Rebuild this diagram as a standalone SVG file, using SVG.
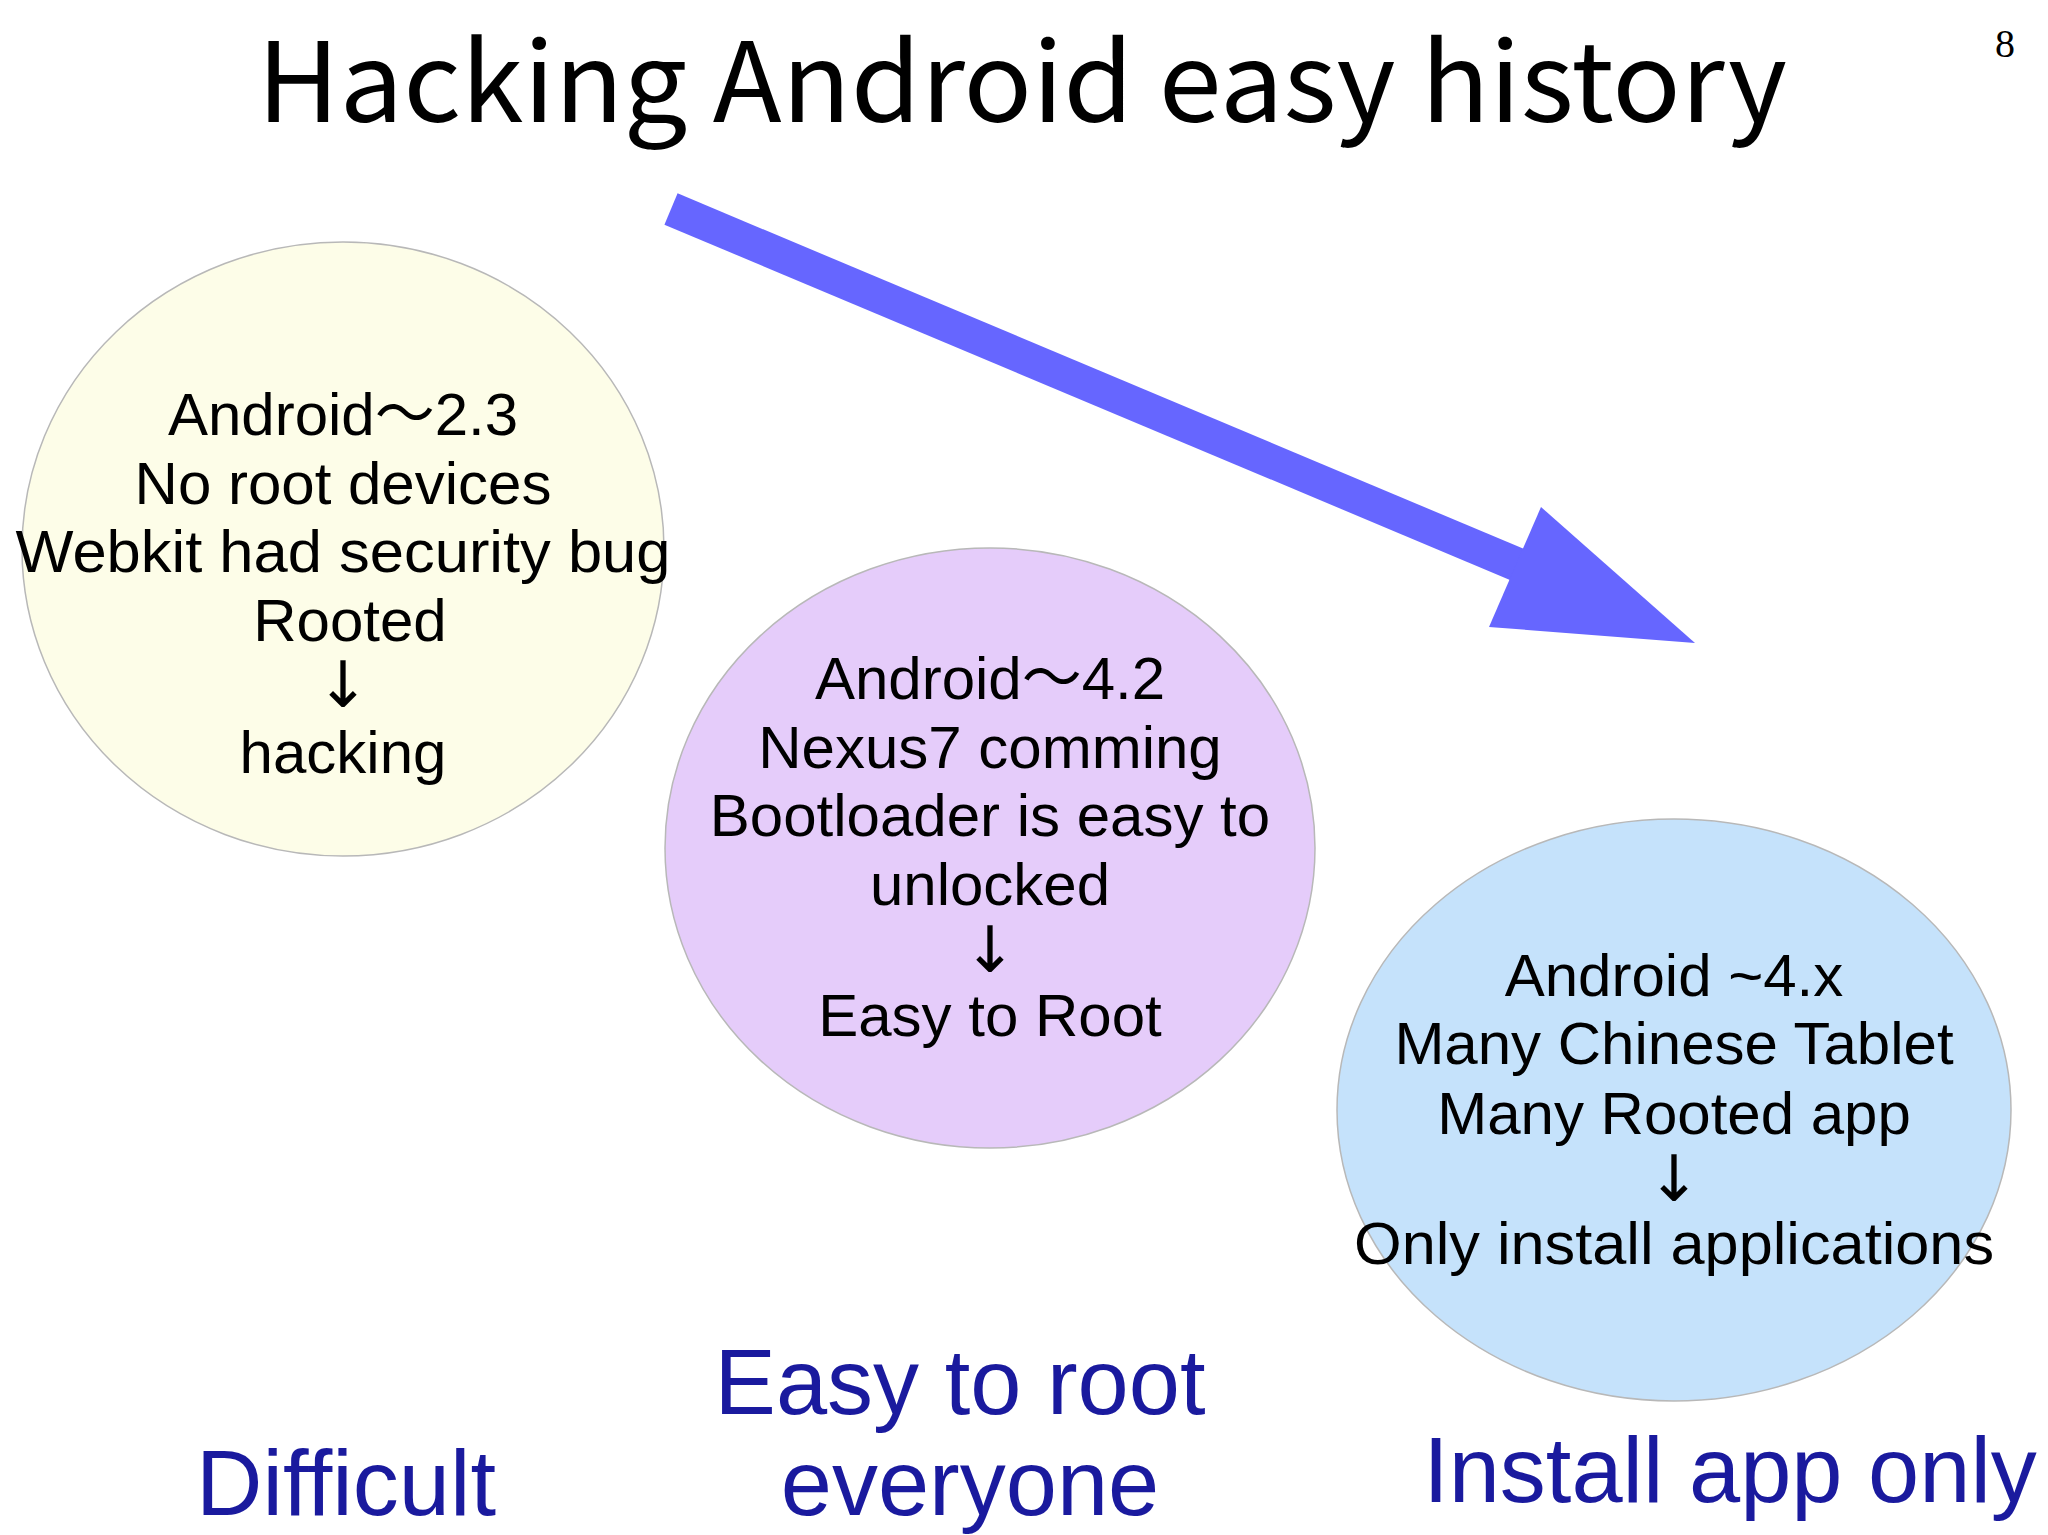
<svg xmlns="http://www.w3.org/2000/svg" width="2048" height="1535" viewBox="0 0 2048 1535">
<style>
.t{font-family:"Liberation Sans","Noto Sans CJK JP",sans-serif;font-size:60px;fill:#000;text-anchor:middle}
.a{font-family:"DejaVu Sans",sans-serif;font-size:64px;fill:#000;text-anchor:middle}
.b{font-family:"Liberation Sans",sans-serif;font-size:92px;fill:#1a1a9e;text-anchor:middle}
.e{stroke:#b8b8b8;stroke-width:1.5}
</style>
<rect width="2048" height="1535" fill="#fff"/>
<text x="1022" y="122" font-family="Noto Sans CJK JP, sans-serif" font-size="110" text-anchor="middle" textLength="1530" lengthAdjust="spacingAndGlyphs">Hacking Android easy history</text>
<text x="2005" y="57" font-family="Liberation Serif, serif" font-size="40" text-anchor="middle">8</text>
<g id="connectors">
<line x1="671" y1="209" x2="1535" y2="572" stroke="#6666ff" stroke-width="34"/>
<polygon points="1541,507 1695,643 1489,627" fill="#6666ff"/>
</g>
<g id="node1">
<ellipse class="e" cx="343" cy="549" rx="321" ry="307" fill="#fdfde8"/>
<text class="t" x="343" y="435">Android〜2.3</text>
<text class="t" x="343" y="504">No root devices</text>
<text class="t" x="343" y="572" textLength="655" lengthAdjust="spacingAndGlyphs">Webkit had security bug</text>
<text class="t" x="350" y="641">Rooted</text>
<text class="a" x="343" y="707">↓</text>
<text class="t" x="343" y="773">hacking</text>
</g>
<g id="node2">
<ellipse class="e" cx="990" cy="848" rx="325" ry="300" fill="#e5ccfa"/>
<text class="t" x="990" y="699">Android〜4.2</text>
<text class="t" x="990" y="768">Nexus7 comming</text>
<text class="t" x="990" y="836">Bootloader is easy to</text>
<text class="t" x="990" y="905">unlocked</text>
<text class="a" x="990" y="972">↓</text>
<text class="t" x="990" y="1036">Easy to Root</text>
</g>
<g id="node3">
<ellipse class="e" cx="1674" cy="1110" rx="337" ry="291" fill="#c5e2fb"/>
<text class="t" x="1674" y="996">Android ~4.x</text>
<text class="t" x="1674" y="1064">Many Chinese Tablet</text>
<text class="t" x="1674" y="1134">Many Rooted app</text>
<text class="a" x="1674" y="1201">↓</text>
<text class="t" x="1674" y="1264" textLength="640" lengthAdjust="spacingAndGlyphs">Only install applications</text>
</g>
<g id="labels">
<text class="b" x="346" y="1515">Difficult</text>
<text class="b" x="960" y="1414">Easy to root</text>
<text class="b" x="970" y="1515">everyone</text>
<text class="b" x="1730" y="1502">Install app only</text>
</g>
</svg>
